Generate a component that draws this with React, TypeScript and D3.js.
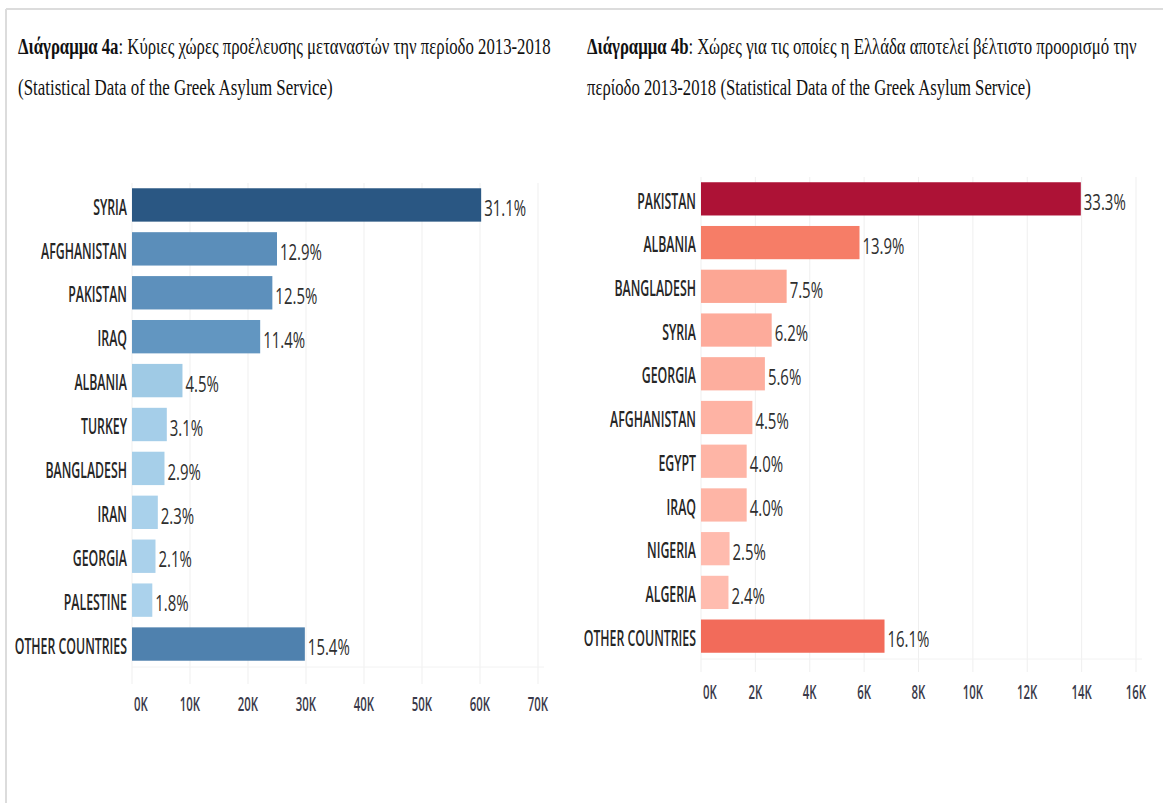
import React, { useLayoutEffect, useRef, useState } from "react";
import * as d3 from "d3";

const leftCategories = ["SYRIA", "AFGHANISTAN", "PAKISTAN", "IRAQ", "ALBANIA", "TURKEY", "BANGLADESH", "IRAN", "GEORGIA", "PALESTINE", "OTHER COUNTRIES"];
const leftValues = [60200, 25000, 24200, 22100, 8700, 6000, 5600, 4450, 4050, 3500, 29800];
const leftPercents = ["31.1%", "12.9%", "12.5%", "11.4%", "4.5%", "3.1%", "2.9%", "2.3%", "2.1%", "1.8%", "15.4%"];
const leftTicks = [0, 10000, 20000, 30000, 40000, 50000, 60000, 70000];
const leftTickLabels = ["0K", "10K", "20K", "30K", "40K", "50K", "60K", "70K"];

const rightCategories = ["PAKISTAN", "ALBANIA", "BANGLADESH", "SYRIA", "GEORGIA", "AFGHANISTAN", "EGYPT", "IRAQ", "NIGERIA", "ALGERIA", "OTHER COUNTRIES"];
const rightValues = [13970, 5830, 3150, 2600, 2350, 1890, 1680, 1680, 1050, 1010, 6750];
const rightPercents = ["33.3%", "13.9%", "7.5%", "6.2%", "5.6%", "4.5%", "4.0%", "4.0%", "2.5%", "2.4%", "16.1%"];
const rightTicks = [0, 2000, 4000, 6000, 8000, 10000, 12000, 14000, 16000];
const rightTickLabels = ["0K", "2K", "4K", "6K", "8K", "10K", "12K", "14K", "16K"];

const leftTitleBold = "Διάγραμμα 4a";
const leftTitleRest = ": Κύριες χώρες προέλευσης μεταναστών την περίοδο 2013-2018";
const leftTitle2 = "(Statistical Data of the Greek Asylum Service)";
const rightTitleBold = "Διάγραμμα 4b";
const rightTitleRest = ": Χώρες για τις οποίες η Ελλάδα αποτελεί βέλτιστο προορισμό την";
const rightTitle2 = "περίοδο 2013-2018 (Statistical Data of the Greek Asylum Service)";

const SANS = "'Open Sans', 'DejaVu Sans', sans-serif";
const SERIF = "'Liberation Serif', 'DejaVu Serif', serif";

function SqText({ x, y, sx, anchor, size, weight, fill, children }: any) {
  return (
    <g transform={`translate(${x},${y}) scale(${sx},1)`}>
      <text x={0} y={0} textAnchor={anchor} dominantBaseline="central" fontFamily={SANS}
        fontSize={size} fontWeight={weight} fill={fill}>{children}</text>
    </g>
  );
}

// Serif title line squeezed horizontally to a target width (measured at layout time)
function FitTitle({ x, y, width, size, bold, rest }: any) {
  const ref = useRef<SVGTextElement>(null);
  const [s, setS] = useState(1);
  useLayoutEffect(() => {
    if (ref.current) {
      const len = ref.current.getComputedTextLength();
      if (len > 0) setS(width / len);
    }
  }, [width, bold, rest]);
  return (
    <g transform={`translate(${x},${y}) scale(${s},1)`}>
      <text ref={ref} x={0} y={0} fontFamily={SERIF} fontSize={size} fill="#111">
        {bold ? <tspan fontWeight="bold">{bold}</tspan> : null}
        <tspan>{rest}</tspan>
      </text>
    </g>
  );
}

function BarChart({ cats, vals, pcts, ticks, tickLabels, xDomain, xRange, yRange, gridBottom, tickY, labelRight, color }: any) {
  const x = d3.scaleLinear().domain(xDomain).range(xRange);
  const y = d3.scaleBand().domain(cats).range(yRange).paddingInner(0.24).paddingOuter(0.12);
  return (
    <g>
      {ticks.map((t: number, i: number) => (
        <line key={"g" + i} x1={x(t)} x2={x(t)} y1={yRange[0]} y2={gridBottom} stroke="#efefef" strokeWidth={1} />
      ))}
      <line x1={xRange[0]} x2={xRange[1] + 6} y1={yRange[1] + 1} y2={yRange[1] + 1} stroke="#f2f2f2" strokeWidth={1} />
      {cats.map((c: string, i: number) => {
        const yy = y(c)!;
        const h = y.bandwidth();
        return (
          <g key={c}>
            <rect x={x(0)} y={yy} width={x(vals[i]) - x(0)} height={h} fill={color(vals[i])} />
            <SqText x={labelRight} y={yy + h / 2 + 1} sx={0.56} anchor="end" size={22} weight={600} fill="#262626">{c}</SqText>
            <SqText x={x(vals[i]) + 3} y={yy + h / 2 + 3} sx={0.68} anchor="start" size={22} weight={400} fill="#2e2e2e">{pcts[i]}</SqText>
          </g>
        );
      })}
      {ticks.map((t: number, i: number) => (
        <SqText key={"t" + i} x={i === 0 ? x(t) + 2 : x(t)} y={tickY} sx={0.6} anchor={i === 0 ? "start" : "middle"} size={19} weight={600} fill="#3a3a4a">{tickLabels[i]}</SqText>
      ))}
    </g>
  );
}

export default function App() {
  const leftColor = d3.scaleLinear<string>().domain([3500, 9000, 22000, 30000, 60200]).range(["#abd2ec", "#9ecae5", "#6296c1", "#4e80ae", "#2a5783"]);
  const rightColor = d3.scaleLinear<string>().domain([1000, 3200, 5830, 6750, 13970]).range(["#ffbcaf", "#fca593", "#f67d67", "#f26b5a", "#ad1236"]);
  return (
    <div style={{ position: "absolute", left: 0, top: 0 }}>
      <svg width={1163} height={803} style={{ display: "block" }}>
        <rect x={0} y={0} width={1163} height={803} fill="#fff" />
        <line x1={6} x2={1163} y1={9} y2={9} stroke="#dcdcdc" strokeWidth={2} />
        <line x1={6} x2={6} y1={9} y2={803} stroke="#dcdcdc" strokeWidth={2} />

        <FitTitle x={18} y={54} width={533} size={24} bold={leftTitleBold} rest={leftTitleRest} />
        <FitTitle x={18} y={95} width={315} size={24} rest={leftTitle2} />
        <FitTitle x={587} y={54} width={550} size={24} bold={rightTitleBold} rest={rightTitleRest} />
        <FitTitle x={587} y={95} width={444} size={24} rest={rightTitle2} />

        <BarChart cats={leftCategories} vals={leftValues} pcts={leftPercents} ticks={leftTicks} tickLabels={leftTickLabels}
          xDomain={[0, 70000]} xRange={[132, 538]} yRange={[183, 666]} gridBottom={684} tickY={704} labelRight={127} color={leftColor} />
        <BarChart cats={rightCategories} vals={rightValues} pcts={rightPercents} ticks={rightTicks} tickLabels={rightTickLabels}
          xDomain={[0, 16000]} xRange={[701, 1136]} yRange={[177, 658]} gridBottom={672} tickY={692} labelRight={696} color={rightColor} />
      </svg>
    </div>
  );
}
